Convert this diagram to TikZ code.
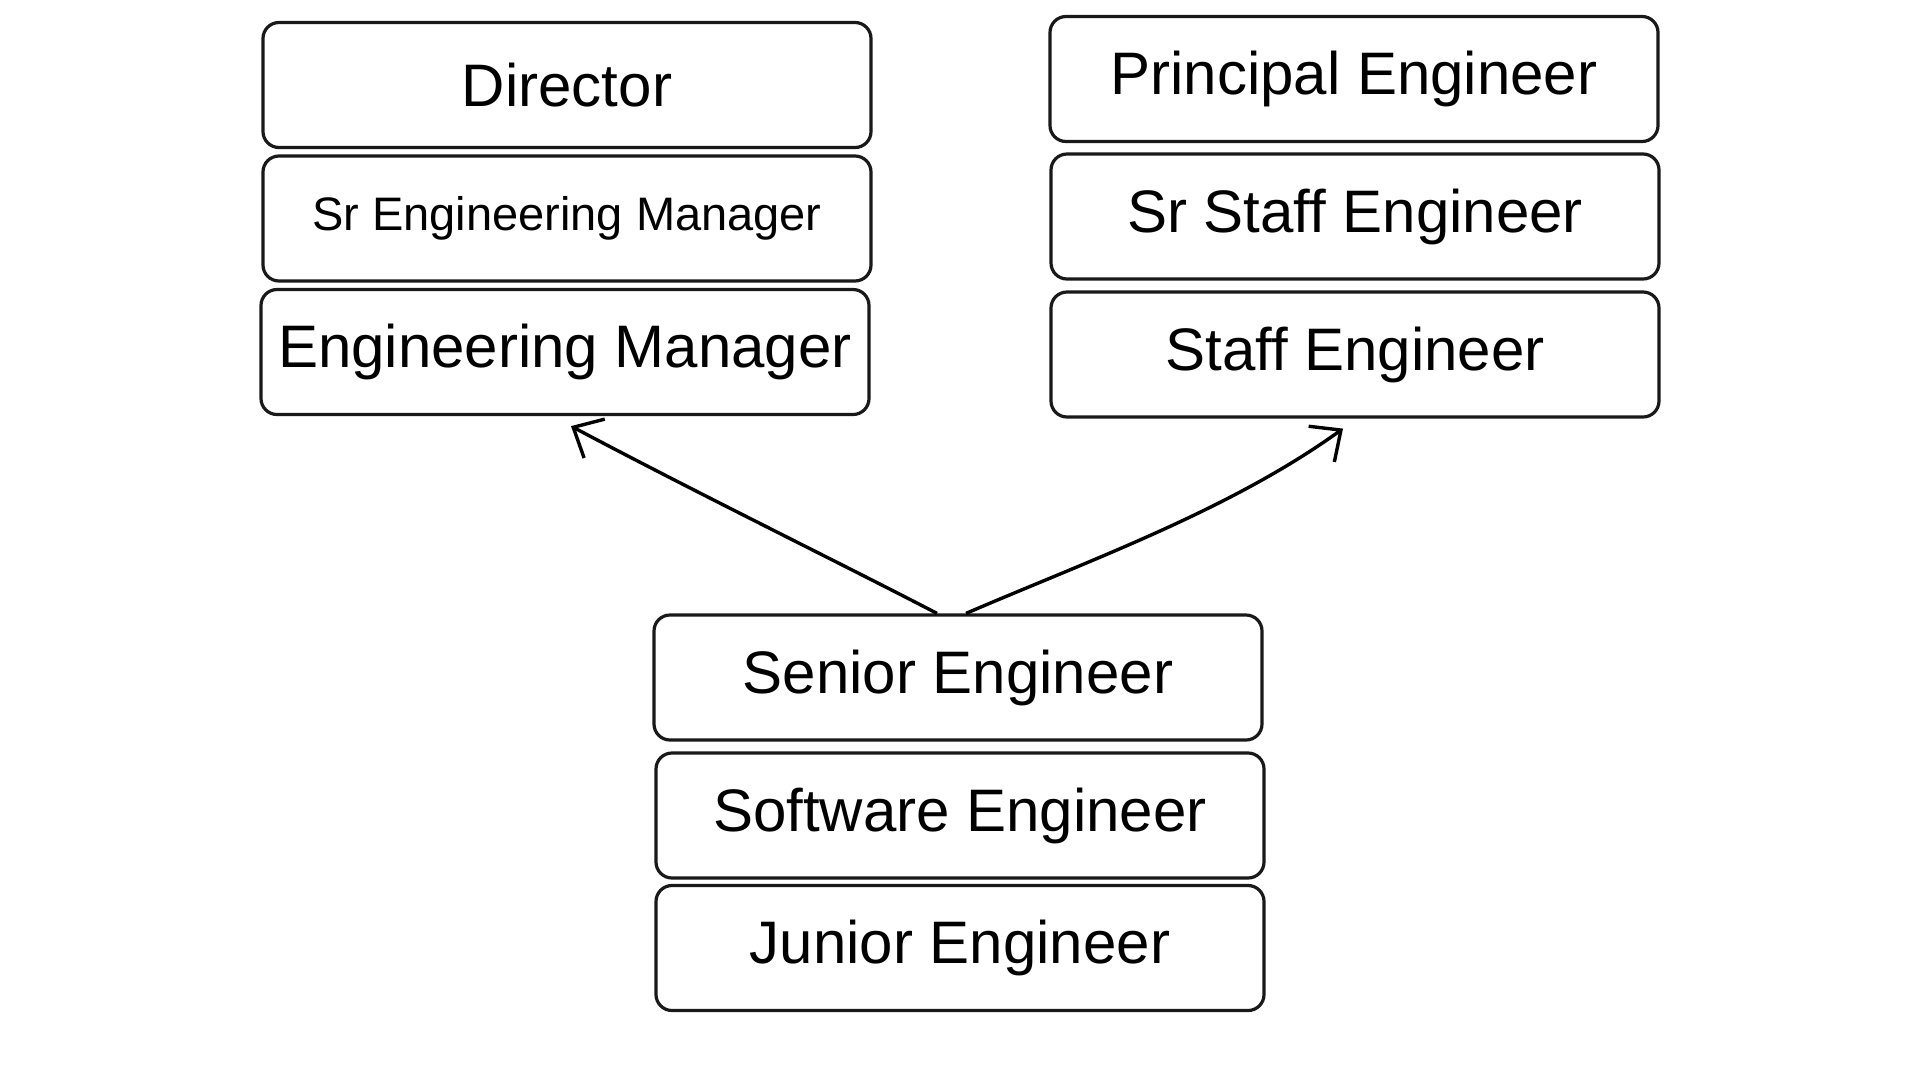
\documentclass[tikz,border=0pt]{standalone}
\usepackage{fontspec}
\setmainfont{Liberation Sans}
\usetikzlibrary{arrows.meta}
\begin{document}
\begin{tikzpicture}[x=1pt,y=-1pt,
  role/.style={draw=black!90, line width=3.2pt, rounded corners=16pt,
    minimum width=608pt, minimum height=125pt, align=center, inner sep=0pt,
    font=\fontsize{60}{66}\selectfont},
  small/.style={font=\fontsize{47}{52}\selectfont},
  arr/.style={line width=3.4pt, -{Straight Barb[length=24pt,width=44pt,line width=3.4pt]}}]
\useasboundingbox[fill=white] (0,0) rectangle (1920,1080);
\node[role] (dir) at (567,85) {Director};
\node[role,small] (srem) at (567,218.5) {Sr Engineering Manager};
\node[role] (em) at (565,352) {Engineering Manager};
\node[role] (pe) at (1354,79) {Principal Engineer};
\node[role] (sse) at (1355,216.5) {Sr Staff Engineer};
\node[role] (se) at (1355,354.5) {Staff Engineer};
\node[role] (sen) at (958,677.5) {Senior Engineer};
\node[role] (sw) at (960,815.5) {Software Engineer};
\node[role] (jr) at (960,948) {Junior Engineer};
\draw[arr] ([xshift=-21pt]sen.north) .. controls (850,568) and (695,492) .. ([xshift=6pt,yshift=-10pt]em.south);
\draw[arr] ([xshift=8pt]sen.north) .. controls (1090,560) and (1230,510) .. ([xshift=-12pt,yshift=-10pt]se.south);
\end{tikzpicture}
\end{document}
